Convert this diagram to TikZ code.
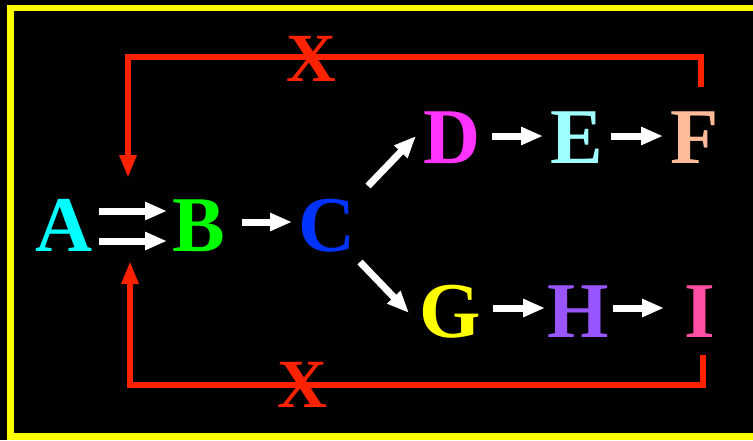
\documentclass[tikz,border=0pt]{standalone}
\usepackage{fontspec}
\setmainfont{Liberation Serif}
\usetikzlibrary{arrows.meta}

\definecolor{lcyan}{RGB}{0,255,255}
\definecolor{lgreen}{RGB}{0,255,0}
\definecolor{lblue}{RGB}{0,51,255}
\definecolor{lmagenta}{RGB}{255,51,255}
\definecolor{lpale}{RGB}{160,255,255}
\definecolor{lpeach}{RGB}{255,187,153}
\definecolor{lyellow}{RGB}{255,255,0}
\definecolor{lpurple}{RGB}{153,85,255}
\definecolor{lpink}{RGB}{255,79,165}
\definecolor{fbred}{RGB}{255,34,0}

\begin{document}
\begin{tikzpicture}[
    x=1pt, y=-1pt,
    letter/.style={inner sep=0pt, text height=52pt, text depth=0pt, font=\fontsize{79}{80}\selectfont\bfseries},
    cross/.style={inner sep=0pt, text height=45pt, text depth=0pt, text=fbred, font=\fontsize{69}{70}\selectfont\bfseries},
    arr/.style={white, line width=7pt, -{Triangle[length=22pt,width=17pt]}},
    fb/.style={fbred, line width=6.5pt, -{Triangle[length=23pt,width=16pt]}},
]
    \useasboundingbox (0,0) rectangle (753,440);
    \clip (0,0) rectangle (753,440);
    \fill[black] (0,0) rectangle (753,440);
    \draw[lyellow, line width=6.5pt] (10.3,8) rectangle (800,436.5);

    % Letters
    \node[letter, text=lcyan] (A) at (64, 225) {A};
    \node[letter, text=lgreen] (B) at (199, 225) {B};
    \node[letter, text=lblue] (C) at (327, 225) {C};
    \node[letter, text=lmagenta] (D) at (452, 137) {D};
    \node[letter, text=lpale] (E) at (577, 137) {E};
    \node[letter, text=lpeach] (F) at (695, 137) {F};
    \node[letter, text=lyellow] (G) at (450, 311) {G};
    \node[letter, text=lpurple] (H) at (578, 311) {H};
    \node[letter, text=lpink] (I) at (700, 311) {I};

    % Forward arrows
    \draw[arr] ([xshift=35pt,yshift=14pt]A.center) -- ([xshift=-32pt,yshift=14pt]B.center);
    \draw[arr] ([xshift=35pt,yshift=-16pt]A.center) -- ([xshift=-32pt,yshift=-16pt]B.center);
    \draw[arr] ([xshift=43pt,yshift=3pt]B.center) -- ([xshift=-35pt,yshift=3pt]C.center);
    \draw[arr] ([xshift=41pt,yshift=39pt]C.center) -- ([xshift=-36pt,yshift=1pt]D.center);
    \draw[arr] ([xshift=33pt,yshift=-37pt]C.center) -- ([xshift=-41pt,yshift=-2pt]G.center);
    \draw[arr] ([xshift=40pt,yshift=1pt]D.center) -- ([xshift=-34pt,yshift=1pt]E.center);
    \draw[arr] ([xshift=34pt,yshift=1pt]E.center) -- ([xshift=-32pt,yshift=1pt]F.center);
    \draw[arr] ([xshift=43pt,yshift=3pt]G.center) -- ([xshift=-33pt,yshift=3pt]H.center);
    \draw[arr] ([xshift=35pt,yshift=3pt]H.center) -- ([xshift=-36pt,yshift=3pt]I.center);

    % Blocked feedback
    \coordinate (inTop) at ([xshift=64pt,yshift=47pt]A.center);
    \coordinate (inBot) at ([xshift=66pt,yshift=-36pt]A.center);
    \draw[fb] ([xshift=6pt,yshift=50pt]F.center) -- ++(0,30pt) -| (inTop);
    \draw[fb] ([xshift=3pt,yshift=-44pt]I.center) -- ++(0,-30pt) -| (inBot);
    \node[cross] (x1) at (311, 59) {X};
    \node[cross] (x2) at (302, 385) {X};
\end{tikzpicture}
\end{document}
